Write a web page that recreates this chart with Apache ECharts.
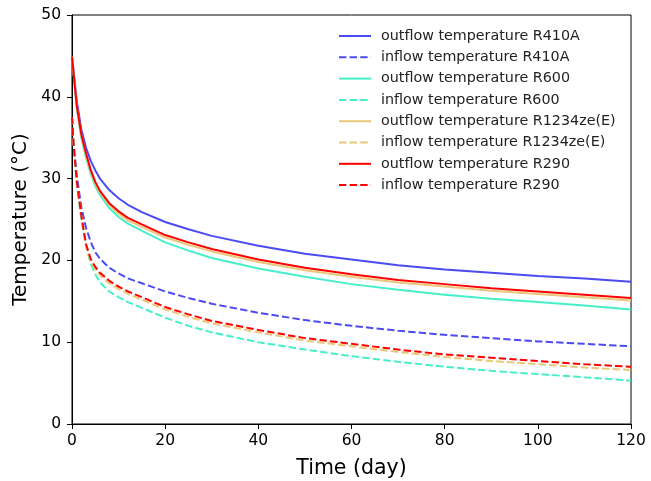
<!DOCTYPE html>
<html>
<head>
<meta charset="utf-8">
<script src="https://cdn.jsdelivr.net/npm/echarts@6/dist/echarts.min.js"></script>
<style>html,body{margin:0;padding:0;background:#fff;}#c{width:651px;height:481px;}</style>
</head>
<body>
<div id="c"></div>
<script>
var days = [0, 0.3, 1, 2, 3, 4, 5, 6, 8, 10, 12, 15, 20, 25, 30, 40, 50, 60, 70, 80, 90, 100, 110, 120];
var outR410A = [44.9, 44.8, 39.6, 36.0, 33.8, 32.2, 31.0, 30.0, 28.6, 27.6, 26.8, 25.9, 24.7, 23.8, 23.0, 21.8, 20.8, 20.1, 19.4, 18.9, 18.5, 18.1, 17.8, 17.4];
var outR600 = [44.9, 44.8, 38.7, 35.0, 32.6, 30.6, 29.1, 28.0, 26.4, 25.3, 24.5, 23.6, 22.2, 21.2, 20.3, 19.0, 18.0, 17.1, 16.4, 15.8, 15.3, 14.9, 14.5, 14.0];
var outR1234 = [44.9, 44.8, 38.9, 35.2, 32.9, 30.9, 29.4, 28.3, 26.8, 25.7, 24.9, 24.1, 22.8, 21.9, 21.1, 19.8, 18.8, 18.0, 17.3, 16.8, 16.3, 15.9, 15.5, 15.1];
var outR290 = [44.9, 44.8, 39.0, 35.4, 33.1, 31.1, 29.6, 28.5, 27.0, 26.0, 25.2, 24.4, 23.1, 22.2, 21.4, 20.1, 19.1, 18.3, 17.6, 17.1, 16.6, 16.2, 15.8, 15.4];
var inR410A = [37.5, 34.5, 30.5, 26.5, 24.0, 22.3, 21.0, 20.2, 19.1, 18.4, 17.8, 17.2, 16.2, 15.4, 14.7, 13.6, 12.7, 12.0, 11.4, 10.9, 10.5, 10.1, 9.8, 9.5];
var inR600 = [37.5, 34.5, 29.5, 25.0, 21.8, 19.6, 18.3, 17.3, 16.2, 15.5, 14.9, 14.2, 13.0, 12.0, 11.2, 10.0, 9.1, 8.3, 7.6, 7.0, 6.5, 6.1, 5.7, 5.3];
var inR1234 = [37.5, 34.5, 29.6, 25.3, 21.8, 19.9, 18.9, 18.2, 17.2, 16.5, 15.9, 15.2, 14.0, 13.1, 12.3, 11.2, 10.2, 9.5, 8.8, 8.2, 7.7, 7.3, 6.9, 6.6];
var inR290 = [37.5, 34.5, 29.8, 25.5, 22.0, 20.2, 19.2, 18.5, 17.5, 16.8, 16.2, 15.5, 14.3, 13.4, 12.6, 11.5, 10.5, 9.8, 9.1, 8.5, 8.1, 7.7, 7.3, 7.0];
var names = ['outflow temperature R410A','inflow temperature R410A','outflow temperature R600','inflow temperature R600','outflow temperature R1234ze(E)','inflow temperature R1234ze(E)','outflow temperature R290','inflow temperature R290'];
var valueSets = [outR410A, inR410A, outR600, inR600, outR1234, inR1234, outR290, inR290];
var colors = ['#4b4bf5','#4b4bf5','#45efc9','#45efc9','#e8c878','#e8c878','#ff0000','#ff0000'];

function pairs(vals){ return days.map(function(d,i){ return [d, vals[i]]; }); }
var font = 'DejaVu Sans';
var series = names.map(function(n, i){
  var dashed = (i % 2 === 1);
  return {
    name: n, type: 'line', data: pairs(valueSets[i]), showSymbol: false, symbol: 'none',
    smooth: false,
    lineStyle: { color: colors[i], width: 2, type: dashed ? [7.4, 3.2] : 'solid' },
    itemStyle: { color: colors[i] },
    z: 2 + i
  };
});
var chart = echarts.init(document.getElementById('c'), null, {renderer: 'canvas'});
chart.setOption({
  animation: false,
  backgroundColor: '#fff',
  textStyle: { fontFamily: font },
  grid: { left: 72, right: 20, top: 15, bottom: 57, containLabel: false, outerBoundsMode: 'none', show: true, borderColor: '#000', borderWidth: 1, backgroundColor: 'transparent' },
  legend: {
    orient: 'vertical', left: 333, top: 24, itemWidth: 32, itemHeight: 14, itemGap: 7.3,
    itemStyle: { opacity: 0 },
    textStyle: { fontFamily: font, fontSize: 14.3, color: '#222', padding: [0, 0, 0, 5] },
    data: names
  },
  xAxis: {
    type: 'value', min: 0, max: 120, interval: 20,
    name: 'Time (day)', nameLocation: 'middle', nameGap: 34,
    nameTextStyle: { fontFamily: font, fontSize: 20.5, color: '#000' },
    axisLine: { show: true, onZero: false, lineStyle: { color: '#000', width: 1 } },
    axisTick: { show: true, length: 5, lineStyle: { color: '#000' } },
    axisLabel: { fontFamily: font, fontSize: 15.5, color: '#000', margin: 9 },
    splitLine: { show: false }
  },
  yAxis: {
    type: 'value', min: 0, max: 50, interval: 10,
    name: 'Temperature (°C)', nameLocation: 'middle', nameGap: 41,
    nameTextStyle: { fontFamily: font, fontSize: 20, color: '#000' },
    axisLine: { show: true, onZero: false, lineStyle: { color: '#000', width: 1 } },
    axisTick: { show: true, length: 5, lineStyle: { color: '#000' } },
    axisLabel: { fontFamily: font, fontSize: 15.5, color: '#000', margin: 11 },
    splitLine: { show: false }
  },
  series: series
});
</script>
</body>
</html>
